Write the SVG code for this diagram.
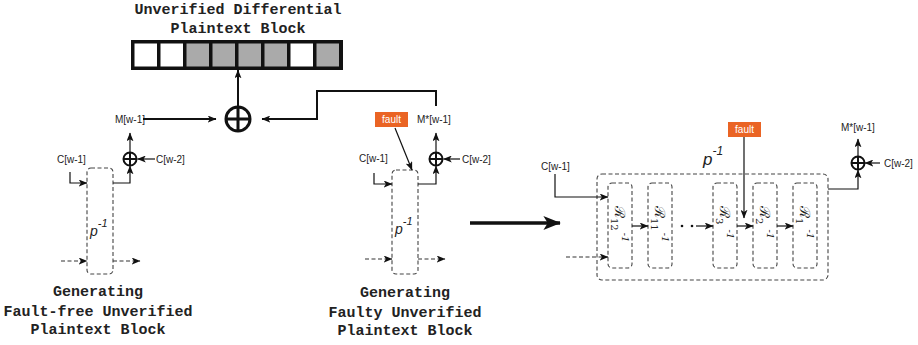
<svg xmlns="http://www.w3.org/2000/svg" width="918" height="345" viewBox="0 0 918 345">
<defs>
<marker id="ah" viewBox="0 0 10 8" refX="9.5" refY="4" markerWidth="9" markerHeight="7" markerUnits="userSpaceOnUse" orient="auto"><path d="M0,0 L10,4 L0,8 L2.5,4 z" fill="#111"/></marker>
<marker id="ahb" viewBox="0 0 10 8" refX="9.5" refY="4" markerWidth="18" markerHeight="14" markerUnits="userSpaceOnUse" orient="auto"><path d="M0,0 L10,4 L0,8 L2.5,4 z" fill="#111"/></marker>
<style>
.t{font-family:"Liberation Mono",monospace;font-weight:bold;font-size:15px;fill:#222;text-anchor:middle}
.l{font-family:"Liberation Sans",Arial,sans-serif;font-size:10px;fill:#222}
.f{font-family:"Liberation Sans",Arial,sans-serif;font-size:10px;fill:#fff;text-anchor:middle}
.p{font-family:"Liberation Sans",Arial,sans-serif;font-style:italic;fill:#222}
.r{font-family:"DejaVu Serif","Liberation Serif",serif;font-size:14px;fill:#222}
.c{fill:none;stroke:#111;stroke-width:1.2}
.cw{fill:none;stroke:#111;stroke-width:2}
.d{fill:none;stroke:#333;stroke-width:1.1;stroke-dasharray:4 2.5}
.bx{fill:none;stroke:#444;stroke-width:1.1;stroke-dasharray:4 2.5}
.x{fill:#fff;stroke:#111;stroke-width:2}
.xl{fill:#fff;stroke:#111;stroke-width:3}
.fr{fill:#ea6424}
.w{fill:#fff}.g{fill:#aaa}
</style>
</defs>

<g id="title">
<text class="t" x="238" y="14">Unverified Differential</text>
<text class="t" x="238" y="33">Plaintext Block</text>
</g>

<g id="block">
<rect x="131" y="40" width="212" height="30" fill="#111"/>
<rect class="w" x="134.5" y="43.5" width="22.5" height="23"/>
<rect class="w" x="160.5" y="43.5" width="22.5" height="23"/>
<rect class="g" x="186.5" y="43.5" width="22.5" height="23"/>
<rect class="g" x="212.5" y="43.5" width="22.5" height="23"/>
<rect class="g" x="238.5" y="43.5" width="22.5" height="23"/>
<rect class="g" x="264.5" y="43.5" width="22.5" height="23"/>
<rect class="w" x="290.5" y="43.5" width="22.5" height="23"/>
<rect class="g" x="316.5" y="43.5" width="22.5" height="23"/>
</g>

<g id="xor-main">
<circle class="xl" cx="238" cy="119" r="12"/>
<path d="M226,119 H250 M238,107 V131" stroke="#111" stroke-width="3"/>
</g>

<g id="fault-free">
<text class="l" x="115" y="123">M[w-1]</text>
<circle class="x" cx="130" cy="159" r="6.5"/>
<path d="M123.5,159 H136.5 M130,152.5 V165.5" stroke="#111" stroke-width="2"/>
<text class="l" x="156" y="163">C[w-2]</text>
<text class="l" x="57" y="163">C[w-1]</text>
<rect class="bx" x="87" y="168" width="26" height="106" rx="4"/>
<text class="p" x="90" y="236" font-size="14">p<tspan font-size="11" dy="-9">-1</tspan></text>
<text class="t" x="98" y="296">Generating</text>
<text class="t" x="98" y="316">Fault-free Unverified</text>
<text class="t" x="98" y="334">Plaintext Block</text>
</g>

<g id="faulty">
<rect class="fr" x="375" y="112" width="33" height="15"/>
<text class="f" x="391.5" y="123">fault</text>
<text class="l" x="417" y="123">M*[w-1]</text>
<circle class="x" cx="436" cy="159" r="6.5"/>
<path d="M429.5,159 H442.5 M436,152.5 V165.5" stroke="#111" stroke-width="2"/>
<text class="l" x="462" y="163">C[w-2]</text>
<text class="l" x="359" y="162">C[w-1]</text>
<rect class="bx" x="392" y="170" width="26" height="104" rx="4"/>
<text class="p" x="395" y="234" font-size="14">p<tspan font-size="11" dy="-9">-1</tspan></text>
<text class="t" x="405" y="297">Generating</text>
<text class="t" x="405" y="317">Faulty Unverified</text>
<text class="t" x="405" y="335">Plaintext Block</text>
</g>

<g id="inverse-detail">
<rect class="bx" x="597" y="174" width="231" height="106" rx="5"/>
<text class="p" x="703" y="165" font-size="17">p<tspan font-size="12" dy="-10">-1</tspan></text>
<text class="l" x="541" y="170">C[w-1]</text>
<rect class="bx" x="608" y="183" width="24" height="85" rx="4"/>
<rect class="bx" x="648" y="183" width="24" height="85" rx="4"/>
<rect class="bx" x="713" y="183" width="24" height="85" rx="4"/>
<rect class="bx" x="753" y="183" width="24" height="85" rx="4"/>
<rect class="bx" x="793" y="183" width="24" height="85" rx="4"/>
<text class="r" transform="translate(615,206) rotate(90)">ℛ<tspan font-size="10" dy="4">12</tspan><tspan font-size="10" font-style="italic" dy="-11" dx="2">-1</tspan></text>
<text class="r" transform="translate(655,206) rotate(90)">ℛ<tspan font-size="10" dy="4">11</tspan><tspan font-size="10" font-style="italic" dy="-11" dx="2">-1</tspan></text>
<text class="r" transform="translate(720,206) rotate(90)">ℛ<tspan font-size="10" dy="4">3</tspan><tspan font-size="10" font-style="italic" dy="-11" dx="5">-1</tspan></text>
<text class="r" transform="translate(760,206) rotate(90)">ℛ<tspan font-size="10" dy="4">2</tspan><tspan font-size="10" font-style="italic" dy="-11" dx="5">-1</tspan></text>
<text class="r" transform="translate(800,206) rotate(90)">ℛ<tspan font-size="10" dy="4">1</tspan><tspan font-size="10" font-style="italic" dy="-11" dx="5">-1</tspan></text>
<circle cx="682" cy="226" r="1.3" fill="#111"/>
<circle cx="692" cy="226" r="1.3" fill="#111"/>
<rect class="fr" x="728" y="122" width="33" height="15"/>
<text class="f" x="744.5" y="133">fault</text>
<circle class="x" cx="858" cy="163" r="6.5"/>
<path d="M851.5,163 H864.5 M858,156.5 V169.5" stroke="#111" stroke-width="2"/>
<text class="l" x="841" y="131">M*[w-1]</text>
<text class="l" x="884" y="167">C[w-2]</text>
</g>

<g id="connectors">
<path class="cw" d="M238,106 V70" marker-end="url(#ah)"/>
<path class="cw" d="M143,119 H216" marker-end="url(#ah)"/>
<path class="cw" d="M436,106 V91 H317 V119 H262" marker-end="url(#ah)"/>
<path class="c" d="M130,152 V133" marker-end="url(#ah)"/>
<path class="c" d="M155,159 H137.5" marker-end="url(#ah)"/>
<path class="c" d="M70,172 V183 H87" marker-end="url(#ah)"/>
<path class="c" d="M113,183 H130 V166" marker-end="url(#ah)"/>
<path class="d" d="M61,261 H87" marker-end="url(#ah)"/>
<path class="d" d="M113,261 H140" marker-end="url(#ah)"/>
<path class="c" d="M395,128 L412,170" marker-end="url(#ah)"/>
<path class="c" d="M436,152 V133" marker-end="url(#ah)"/>
<path class="c" d="M460,159 H443.5" marker-end="url(#ah)"/>
<path class="c" d="M374,173 V184 H392" marker-end="url(#ah)"/>
<path class="c" d="M418,184 H436 V166" marker-end="url(#ah)"/>
<path class="d" d="M365,259 H392" marker-end="url(#ah)"/>
<path class="d" d="M418,259 H445" marker-end="url(#ah)"/>
<path d="M470,223 H560" fill="none" stroke="#111" stroke-width="3.5" marker-end="url(#ahb)"/>
<path class="c" d="M555,174 V197 H608" stroke="#555" marker-end="url(#ah)"/>
<path class="d" d="M566,257 H608" stroke="#555" marker-end="url(#ah)"/>
<path class="c" d="M632,226 H648" marker-end="url(#ah)"/>
<path class="c" d="M696,226 H713" marker-end="url(#ah)"/>
<path class="c" d="M737,226 H753" marker-end="url(#ah)"/>
<path class="c" d="M777,226 H793" marker-end="url(#ah)"/>
<path class="c" d="M744,137 V218" marker-end="url(#ah)"/>
<path class="c" d="M828,189 H858 V170" stroke="#555" marker-end="url(#ah)"/>
<path class="c" d="M858,156 V139" marker-end="url(#ah)"/>
<path class="c" d="M880,163 H865" marker-end="url(#ah)"/>
</g>
</svg>
